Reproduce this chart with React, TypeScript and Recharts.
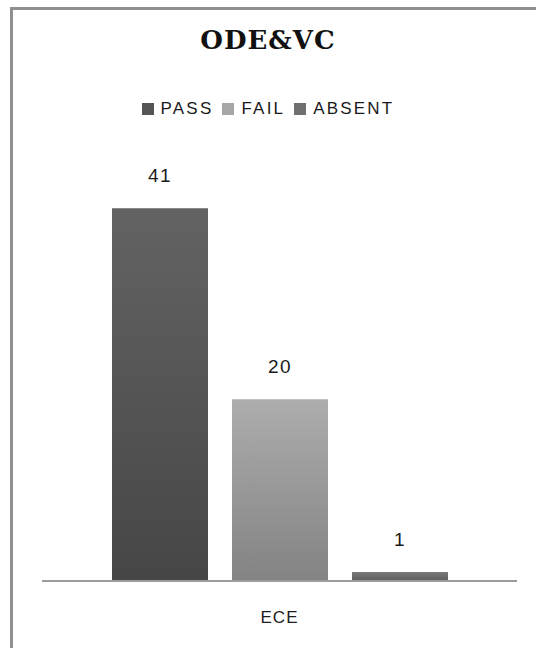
import React from 'react';
import { BarChart, Bar, XAxis, YAxis, LabelList, Legend } from 'recharts';

const categories = ['ECE'];
const passValues = [41];
const failValues = [20];
const absentValues = [1];
const seriesNames = ['PASS', 'FAIL', 'ABSENT'];
const legendColors = ['#555555', '#a6a6a6', '#707070'];
const title = 'ODE&VC';

const data = categories.map((c, i) => ({
  name: c,
  PASS: passValues[i],
  FAIL: failValues[i],
  ABSENT: absentValues[i],
}));

const renderLegend = () => (
  <div
    style={{
      display: 'flex',
      justifyContent: 'center',
      alignItems: 'center',
      fontFamily: 'Liberation Sans, Arial, sans-serif',
      fontSize: 17,
      letterSpacing: 2.2,
      color: '#1a1a1a',
      height: 20,
    }}
  >
    {seriesNames.map((n, i) => (
      <div key={n} style={{ display: 'flex', alignItems: 'center', marginRight: i < 2 ? 9 : 0 }}>
        <span style={{ width: 12, height: 12, background: legendColors[i], display: 'inline-block', marginRight: 7 }} />
        <span>{n}</span>
      </div>
    ))}
  </div>
);

const labelStyle = { fontFamily: 'Liberation Sans, Arial, sans-serif', fontSize: 19, fill: '#1a1a1a', letterSpacing: 1.5 };

export default function App() {
  return (
    <div style={{ position: 'absolute', left: 0, top: 0, width: 536, height: 648, overflow: 'hidden', background: '#fff' }}>
      <div
        style={{
          position: 'absolute',
          left: 10,
          top: 7,
          width: 600,
          height: 700,
          borderLeft: '3px solid #8f8f8f',
          borderTop: '3px solid #8f8f8f',
          boxSizing: 'border-box',
        }}
      />
      <div
        style={{
          position: 'absolute',
          left: 0,
          top: 25,
          width: 536,
          textAlign: 'center',
          fontFamily: 'DejaVu Serif, serif',
          fontWeight: 'bold',
          fontSize: 26,
          letterSpacing: 1,
          color: '#111',
        }}
      >
        {title}
      </div>
      <div style={{ position: 'absolute', left: 0, top: 0 }}>
        <BarChart
          width={536}
          height={648}
          data={data}
          margin={{ top: 152, right: 19, bottom: 27, left: 42 }}
          barSize={96}
          barGap={24}
        >
          <defs>
            <linearGradient id="gPass" x1="0" y1="0" x2="0" y2="1">
              <stop offset="0%" stopColor="#636363" />
              <stop offset="100%" stopColor="#464646" />
            </linearGradient>
            <linearGradient id="gFail" x1="0" y1="0" x2="0" y2="1">
              <stop offset="0%" stopColor="#adadad" />
              <stop offset="100%" stopColor="#838383" />
            </linearGradient>
            <linearGradient id="gAbsent" x1="0" y1="0" x2="0" y2="1">
              <stop offset="0%" stopColor="#7a7a7a" />
              <stop offset="100%" stopColor="#5e5e5e" />
            </linearGradient>
          </defs>
          <Legend
            verticalAlign="top"
            content={renderLegend}
            wrapperStyle={{ position: 'absolute', top: 99, left: 0, width: 536 }}
          />
          <YAxis hide domain={[0, 45]} />
          <XAxis
            dataKey="name"
            height={40}
            tickLine={false}
            axisLine={{ stroke: '#9c9c9c', strokeWidth: 2 }}
            tickMargin={24}
            tick={{ fontFamily: 'Liberation Sans, Arial, sans-serif', fontSize: 17, fill: '#1e1e1e', letterSpacing: 1 }}
          />
          <Bar dataKey="PASS" fill="url(#gPass)" isAnimationActive={false}>
            <LabelList dataKey="PASS" position="top" offset={26} style={labelStyle} />
          </Bar>
          <Bar dataKey="FAIL" fill="url(#gFail)" isAnimationActive={false}>
            <LabelList dataKey="FAIL" position="top" offset={26} style={labelStyle} />
          </Bar>
          <Bar dataKey="ABSENT" fill="url(#gAbsent)" isAnimationActive={false}>
            <LabelList dataKey="ABSENT" position="top" offset={26} style={labelStyle} />
          </Bar>
        </BarChart>
      </div>
    </div>
  );
}
